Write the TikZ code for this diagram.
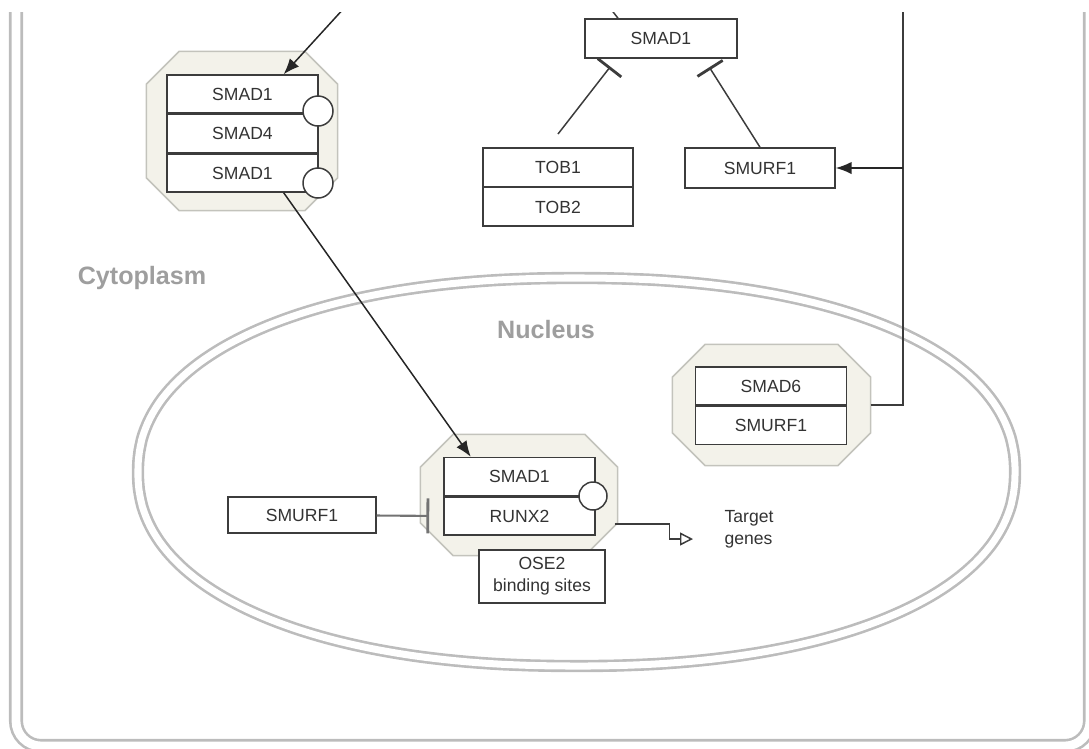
\documentclass[tikz,border=0pt]{standalone}
\usepackage{fontspec}
\setmainfont{Liberation Sans}
\usepackage{tikz}
\usetikzlibrary{arrows.meta,positioning,calc}
\definecolor{cplxbg}{RGB}{243,242,234}
\definecolor{cplxline}{RGB}{195,195,188}
\definecolor{boxline}{RGB}{60,60,60}
\definecolor{membr}{RGB}{188,188,188}
\definecolor{lblgray}{RGB}{158,158,158}
% octagon behind a complex, drawn round a named node
\newcommand{\cplxoct}[1]{%
  \filldraw[fill=cplxbg,draw=cplxline] ($(#1.north west)+(33,0)$) -- ($(#1.north east)+(-33,0)$)
    -- ($(#1.north east)+(0,33)$) -- ($(#1.south east)+(0,-33)$) -- ($(#1.south east)+(-33,0)$)
    -- ($(#1.south west)+(33,0)$) -- ($(#1.south west)+(0,-33)$) -- ($(#1.north west)+(0,33)$) -- cycle;}

\begin{document}
\begin{tikzpicture}[x=0.02cm,y=-0.02cm,>=Latex,
    font=\fontsize{10}{12.5}\selectfont,line width=0.85pt,
    bx/.style={draw=boxline,fill=white,text=black!80,minimum width=3.02cm,minimum height=0.76cm,inner sep=0pt},
    cplx/.style={rectangle,inner sep=0pt},
    ph/.style={circle,draw=boxline,fill=white,minimum size=0.6cm,inner sep=0pt},
    inh/.style={draw=boxline,-{Bar[width=17pt,line width=1.6pt]},shorten >=5.7pt},
    act/.style={draw=black!85,-{Latex[length=9pt,width=7pt]}},
    memb/.style={draw=membr,line width=1.5pt,double=white,double distance=4pt},
    lbl/.style={font=\fontsize{14.3}{16}\selectfont\bfseries,text=lblgray}]
  \useasboundingbox (0,0) rectangle (1089,748);
  \clip (0,12) rectangle (1089,748);
  % cell and nucleus
  \draw[memb,double distance=5pt,rounded corners=0.5cm] (16,-40) -- (16,746) -- (1090,746) -- (1090,-40);
  \draw[memb] plot[domain=0.5:360.5,samples=241]
    ({576.5+438.5*sign(cos(\x))*abs(cos(\x))^0.909},{472+194*sign(sin(\x))*abs(sin(\x))^0.909}) -- cycle;
  \node[lbl] (cyto) at (142,278) {Cytoplasm};
  \node[lbl] (nuc) at (546,330) {Nucleus};

  % SMAD1/SMAD4 complex
  \node[cplx,minimum width=3.8cm,minimum height=3.16cm] (c1oct) at (242,131) {};
  \cplxoct{c1oct}
  \node[bx] (c1a) at (242.5,94) {SMAD1};
  \node[bx,below=0pt of c1a] (c1b) {SMAD4};
  \node[bx,below=0pt of c1b] (c1c) {SMAD1};
  \node[ph] (p1) at (318,111) {};
  \node[ph] (p2) at (318,183) {};

  % top row
  \node[bx,minimum width=3.04cm,minimum height=0.78cm] (smadT) at (661,38.5) {SMAD1};
  \node[bx,minimum width=3cm,minimum height=0.77cm] (tob1) at (558,167) {TOB1};
  \node[bx,minimum width=3cm,minimum height=0.77cm,below=0pt of tob1] (tob2) {TOB2};
  \node[bx,minimum width=3cm,minimum height=0.8cm] (smurfT) at (760,168) {SMURF1};

  % SMAD6/SMURF1 complex
  \node[cplx,minimum width=3.94cm,minimum height=2.4cm] (c6oct) at (771.5,405) {};
  \cplxoct{c6oct}
  \node[bx] (c6a) at (771,386) {SMAD6};
  \node[bx,below=0pt of c6a] (c6b) {SMURF1};

  % SMAD1/RUNX2 complex in the nucleus
  \node[cplx,minimum width=3.92cm,minimum height=2.4cm] (c2oct) at (519,495) {};
  \cplxoct{c2oct}
  \node[bx] (c2a) at (519.5,476.5) {SMAD1};
  \node[bx,below=0pt of c2a] (c2b) {RUNX2};
  \node[ph,minimum size=0.56cm] (p3) at (593,496) {};
  \node[bx,minimum width=2.96cm,minimum height=0.72cm] (smurfL) at (302,515) {SMURF1};
  \node[bx,minimum width=2.52cm,minimum height=1.06cm,align=center] (ose) at (542,576.5) {OSE2\\binding sites};
  \node[anchor=west,align=left,text=black!80] (tg) at (718,529) {Target\\genes};

  % connectors
  \coordinate (inTop) at (346,6);
  \coordinate (smadIn) at (610,8);
  \coordinate (topR) at (903,6);
  \coordinate (tobTip) at ($(tob1.north)+(0,-13)$);
  \coordinate (tgTip) at (693,539);
  \draw[act] (inTop) -- ($(c1a.north west)!0.77!(c1a.north east)$);
  \draw[act] ($(c1c.south west)!0.77!(c1c.south east)$) -- ($(c2a.north west)!0.18!(c2a.north east)$);
  \draw[boxline] (smadIn) -- ($(smadT.north west)!0.22!(smadT.north east)$);
  \draw[inh] (tobTip) -- ($(smadT.south west)!0.21!(smadT.south east)$);
  \draw[inh] (smurfT.north) -- ($(smadT.south west)!0.78!(smadT.south east)$);
  \draw[boxline] (c6oct.east) -| (topR);
  \draw[act] (topR |- smurfT.east) -- (smurfT.east);
  \draw[inh,draw=black!55,line width=1.2pt,-{Bar[width=20pt,line width=1.6pt]},shorten >=8pt] (smurfL) -- (c2b.west);
  \draw[boxline,-{Triangle[open,length=7.4pt,width=7.4pt]}] ($(c2oct.east)+(-3,29)$) -- ++(55,0) -- ++(0,15) -- (tgTip);
\end{tikzpicture}
\end{document}
